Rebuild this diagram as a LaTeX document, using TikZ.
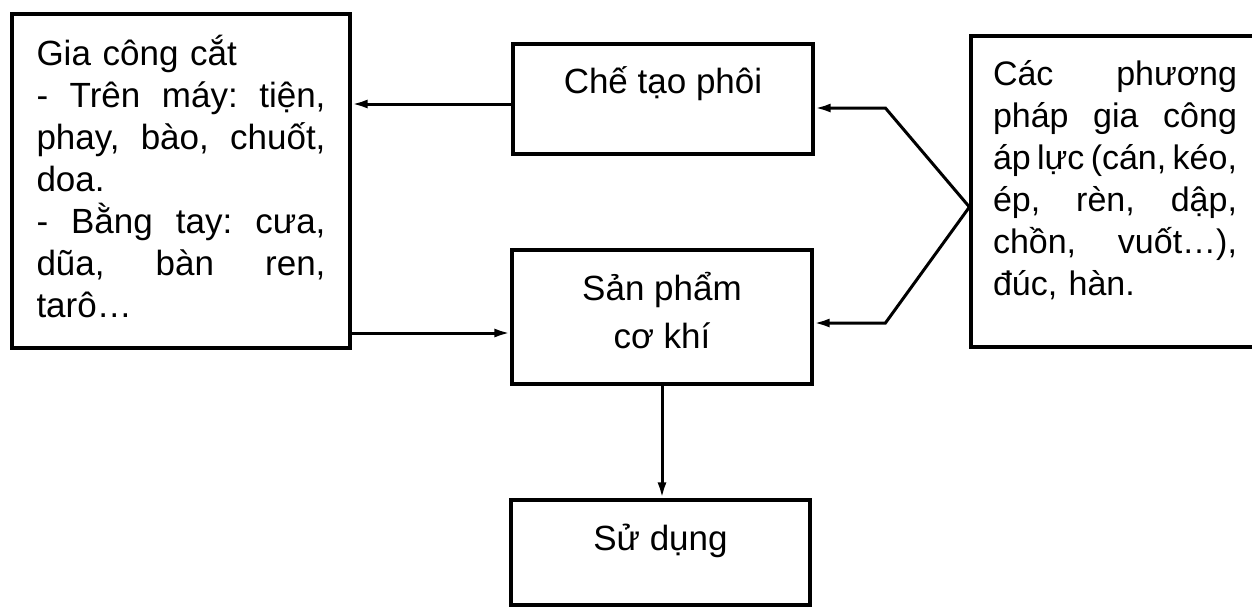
\documentclass[tikz,border=0pt]{standalone}
\usepackage{fontspec}
\setmainfont{Liberation Sans}
\usetikzlibrary{arrows.meta,positioning}
\tikzset{
  box/.style={draw=black, line width=1.6pt, align=center, inner xsep=0pt, inner ysep=0pt, minimum width=150pt},
  textbox/.style={draw=black, line width=1.6pt, align=left, inner ysep=0pt},
  arrow/.style={-{Latex[length=8pt,width=4.5pt]}, line width=1.5pt},
  link/.style={line width=1.5pt, line join=miter}
}
\frenchspacing
\newcommand{\spreadline}[1]{\makebox[\linewidth][s]{\spaceskip=0.278em plus 1fil minus 0.15em\xspaceskip=\spaceskip #1}}

\begin{document}
\begin{tikzpicture}[x=0.5pt, y=-0.5pt, font=\fontsize{17.5}{21}\selectfont]
  \useasboundingbox (0,0) rectangle (1252,607);
  \clip (0,0) rectangle (1252,607);

  \node[textbox, inner xsep=12.25pt, text width=144.5pt, text height=25.5pt, text depth=141.5pt] (cut) at (181,181)
    {Gia công cắt\\ \spreadline{- Trên máy: tiện,}\\ \spreadline{phay, bào, chuốt,}\\ doa.\\ \spreadline{- Bằng tay: cưa,}\\ \spreadline{dũa, bàn ren,}\\ tarô…};
  \node[box, text height=24.5pt, text depth=30.5pt] (make) at (663,99) {Chế tạo phôi};
  \node[box, text height=49pt, text depth=18pt, font=\fontsize{17.5}{24}\selectfont] (product) at (662,317) {Sản phẩm\\cơ khí};
  \node[box, minimum width=149.5pt, text height=25pt, text depth=27.5pt] (use) at (660.5,552.5) {Sử dụng};
  \node[textbox, inner xsep=11pt, text width=122pt, text height=24.5pt, text depth=131pt, font=\fontsize{17}{21}\selectfont] (press) at (1115,191.5)
    {\spreadline{Các phương}\\ \spreadline{pháp gia công}\\ \spreadline{áp lực (cán, kéo,}\\ \spreadline{ép, rèn, dập,}\\ \spreadline{chồn, vuốt…),}\\ đúc, hàn.};

  % left side
  \coordinate (mw) at ([yshift=-2.5pt]make.west);
  \coordinate (pw) at ([yshift=-8pt]product.west);
  \draw[arrow] (mw) -- (mw -| cut.east);
  \draw[arrow] (pw -| cut.east) -- (pw);

  % right side
  \coordinate (join) at ([yshift=-7.75pt]press.west);
  \draw[arrow, link] (join) -- ++(-84,-99) -- ([yshift=-4.5pt]make.east);
  \draw[arrow, link] (join) -- ++(-84,116) -- ([yshift=-3pt]product.east);

  \draw[arrow] (product.south) -- (product.south |- use.north);
\end{tikzpicture}
\end{document}
